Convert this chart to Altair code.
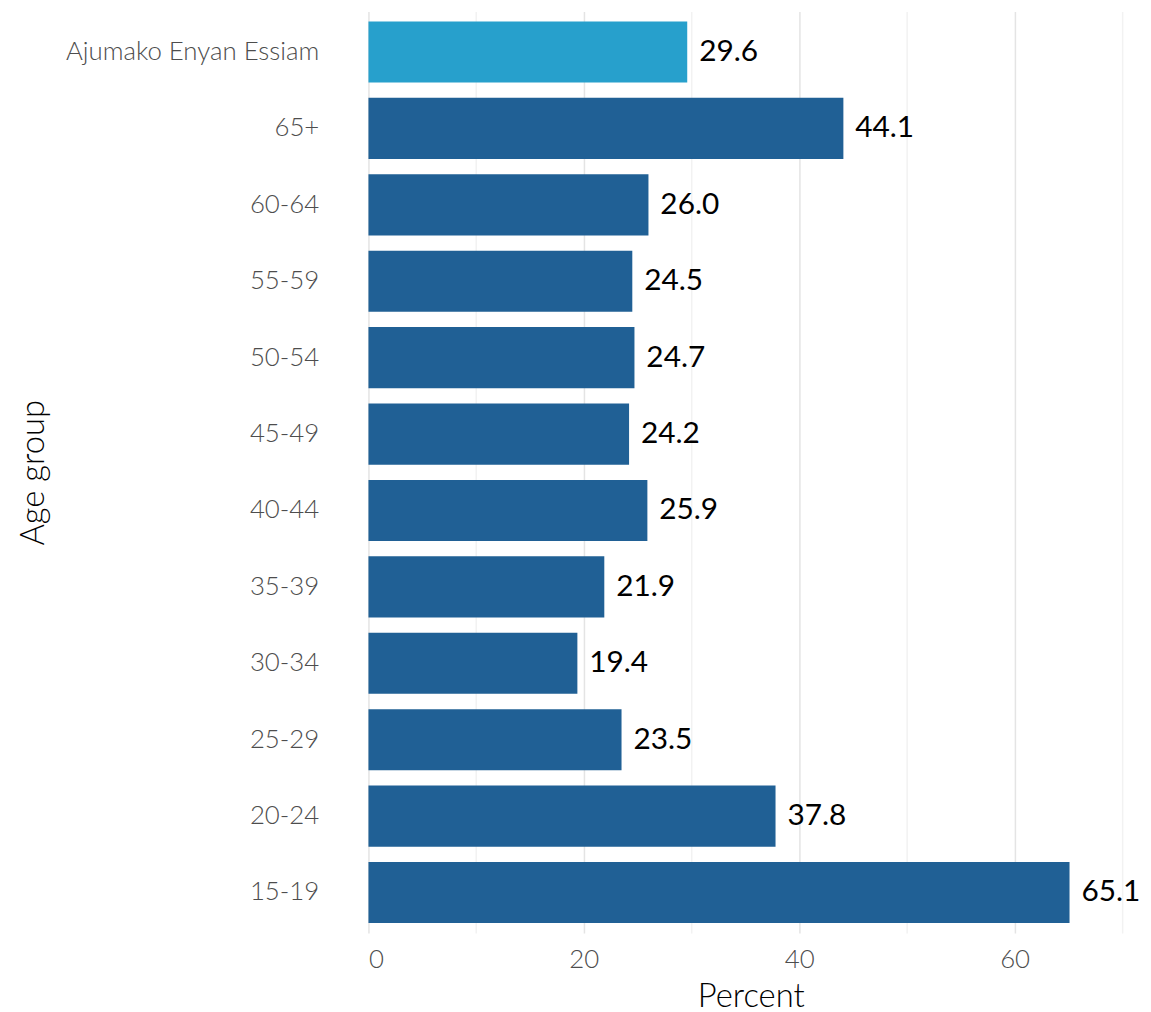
import altair as alt
import pandas as pd

categories = ["Ajumako Enyan Essiam", "65+", "60-64", "55-59", "50-54", "45-49",
              "40-44", "35-39", "30-34", "25-29", "20-24", "15-19"]
values = [29.6, 44.1, 26.0, 24.5, 24.7, 24.2, 25.9, 21.9, 19.4, 23.5, 37.8, 65.1]
highlight = [True] + [False] * 11

df = pd.DataFrame({"group": categories, "pct": values, "hl": highlight})
df["label"] = df["pct"].map(lambda v: f"{v:.1f}")

FONT = "Lato"
H = 928

y_enc = alt.Y("group:N", sort=categories, title="Age group",
              scale=alt.Scale(paddingInner=0.2, paddingOuter=0.13),
              axis=alt.Axis(labelFontSize=26, labelColor="#4d4d4d", labelFont=FONT,
                            labelPadding=50, ticks=False, domain=False, grid=False,
                            labelFontWeight=300, labelLimit=0,
                            titleFontSize=33, titleFont=FONT, titleFontWeight=300,
                            titleColor="black", titleAngle=-90, titleX=-337, titleY=H / 2,
                            titleAlign="center", titleBaseline="middle"))

x_scale = alt.Scale(domain=[0, 71], nice=False, zero=True)

bars = alt.Chart(df).mark_bar().encode(
    x=alt.X("pct:Q", scale=x_scale, title="Percent",
            axis=alt.Axis(values=[0, 10, 20, 30, 40, 50, 60, 70],
                          labelExpr="datum.value % 20 == 0 ? datum.label : ''",
                          labelFontSize=26, labelColor="#4d4d4d", labelFont=FONT,
                          labelFontWeight=300, labelPadding=14,
                          ticks=False, domain=False, grid=True,
                          gridColor=alt.condition("datum.value % 20 == 0",
                                                  alt.value("#e4e4e4"), alt.value("#f2f2f2")),
                          gridWidth=1.5,
                          titleFontSize=33, titleFont=FONT, titleFontWeight=300,
                          titleColor="black", titleY=64, titleBaseline="middle")),
    y=y_enc,
    color=alt.Color("hl:N", scale=alt.Scale(domain=[True, False], range=["#27a0cc", "#206095"]),
                    legend=None),
)

labels = alt.Chart(df).mark_text(align="left", baseline="middle", dx=12, fontSize=30,
                                 font=FONT, fontWeight=400, color="black").encode(
    x=alt.X("pct:Q", scale=x_scale),
    y=alt.Y("group:N", sort=categories),
    text="label:N",
)

chart = (bars + labels).properties(
    width=770, height=H,
    background="white",
    autosize=alt.AutoSizeParams(type="none"),
    padding={"left": 363, "top": 0, "right": 10, "bottom": 80},
).configure_view(stroke=None, strokeWidth=0)

chart.save("out.html", embed_options={"renderer": "svg", "actions": False})
